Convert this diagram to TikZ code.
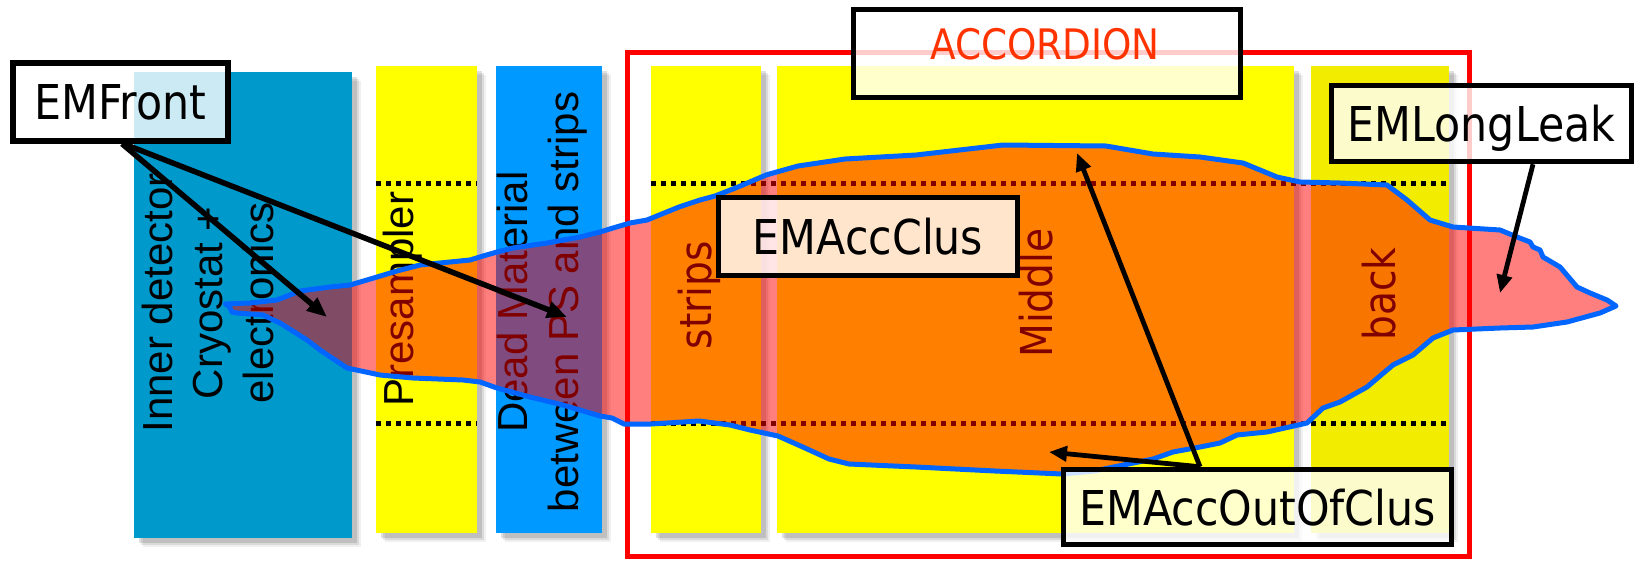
\documentclass[tikz,border=0pt]{standalone}
\usepackage{fontspec}
\setmainfont{Liberation Sans}
\newfontfamily\labelfont[FakeStretch=0.89]{DejaVu Sans}
\usetikzlibrary{arrows.meta}

\definecolor{idblue}{RGB}{0,153,204}
\definecolor{dmblue}{RGB}{0,153,255}
\definecolor{layeryellow}{RGB}{255,255,0}
\definecolor{backyellow}{RGB}{242,236,0}
\definecolor{accred}{RGB}{255,0,0}
\definecolor{acctext}{RGB}{255,51,0}
\definecolor{showerline}{RGB}{0,102,255}

\tikzset{
  softshadow/.style={
    preaction={fill=black, opacity=.06, transform canvas={shift={(9pt,-9pt)}}},
    preaction={fill=black, opacity=.09, transform canvas={shift={(7pt,-7pt)}}},
    preaction={fill=black, opacity=.12, transform canvas={shift={(4.5pt,-4.5pt)}}}},
  layerbox/.style={softshadow},
  sidetext/.style={rotate=90, anchor=base, inner sep=0pt,
    font=\fontsize{42}{50}\selectfont},
  layertext/.style={rotate=90, anchor=base, inner sep=0pt,
    font=\labelfont\fontsize{44}{52}\selectfont},
  labelbox/.style={draw=black, line width=5.5pt, fill=white, fill opacity=0.8,
    text opacity=1, inner sep=0pt, text depth=0pt,
    font=\labelfont\fontsize{48}{56}\selectfont},
  dotline/.style={black, line width=5pt, dash pattern=on 5pt off 5pt},
  pointer/.style={black, line width=5.5pt,
    -{Triangle[length=20pt,width=16pt]}},
  thinpointer/.style={black, line width=4.8pt,
    -{Triangle[length=18pt,width=15pt]}},
  shower/.style={fill=red, fill opacity=0.5, draw=showerline,
    line width=5pt, line join=round}
}

\begin{document}
\begin{tikzpicture}[x=1pt, y=-1pt]
\useasboundingbox (0,0) rectangle (1637,560);

% accordion envelope
\draw[accred, line width=5pt] (627.5,52) rectangle (1469.5,556);

% detector layers
\fill[idblue, layerbox] (134,72) rectangle (352,538);
\fill[layeryellow, layerbox] (376,66) rectangle (477,533);
\fill[dmblue, layerbox] (496,66) rectangle (602,533);
\fill[layeryellow, layerbox] (651,66) rectangle (761,533);
\fill[layeryellow, layerbox] (777,66) rectangle (1294,533);
\fill[backyellow, layerbox] (1311,66) rectangle (1449,533);

% layer names
\node[sidetext] (idline1) at (172,303) {Inner detector};
\node[sidetext] (idline2) at (222,303) {Cryostat +};
\node[sidetext] (idline3) at (273,303) {electronics};
\node[sidetext] (ps) at (413,299) {Presampler};
\node[sidetext] (dmline1) at (527,302) {Dead Material};
\node[sidetext] (dmline2) at (578,302) {between PS and strips};
\node[layertext] (strips) at (711,295) {strips};
\node[layertext] (middle) at (1052,293) {Middle};
\node[layertext] (back) at (1395,294) {back};

% cluster window
\draw[dotline] (376,183) -- (477,183);
\draw[dotline] (376,423) -- (477,423);
\draw[dotline] (651,183) -- (1449,183);
\draw[dotline] (651,423) -- (1449,423);

% shower envelope
\draw[shower] (225,304) -- (250,303) -- (277,300) -- (300,291) -- (330,287)
  -- (350,285) -- (377,277) -- (397,271) -- (420,265) -- (450,262)
  -- (470,260) -- (483,256) -- (497,252) -- (513,248) -- (547,243)
  -- (580,237) -- (600,232) -- (613,228) -- (630,223) -- (647,220)
  -- (679,207) -- (700,200) -- (715,196) -- (738,187) -- (766,175)
  -- (798,166) -- (845,159) -- (916,155) -- (1003,145) -- (1106,146)
  -- (1153,154) -- (1200,157) -- (1243,163) -- (1277,177) -- (1300,182)
  -- (1340,183) -- (1387,185) -- (1407,200) -- (1430,220) -- (1453,227)
  -- (1500,230) -- (1517,237) -- (1530,242) -- (1533,247) -- (1540,250)
  -- (1543,257) -- (1560,267) -- (1577,287) -- (1590,293) -- (1607,300)
  -- (1616,306)
  -- (1600,313) -- (1567,322) -- (1533,327) -- (1500,328) -- (1453,330)
  -- (1433,338) -- (1413,355) -- (1393,365) -- (1387,370) -- (1367,387)
  -- (1340,402) -- (1323,408) -- (1307,423) -- (1267,432) -- (1237,435)
  -- (1220,443) -- (1200,447) -- (1173,452) -- (1153,459) -- (1094,471)
  -- (1062,474) -- (995,471) -- (916,467) -- (849,464) -- (829,459)
  -- (805,448) -- (778,436) -- (750,430) -- (730,425) -- (699,421)
  -- (651,424) -- (624,424) -- (612,418) -- (600,416) -- (563,405)
  -- (530,397) -- (497,388) -- (480,382) -- (463,380) -- (413,378)
  -- (380,375) -- (347,368) -- (320,350) -- (307,340) -- (280,323)
  -- (263,315) -- (237,313) -- (232,312) -- (229,306) -- cycle;

% label boxes
\node[labelbox, minimum width=215pt, minimum height=78pt] (emfront)
  at (120.5,102) {EMFront};
\node[labelbox, minimum width=387pt, minimum height=88pt] (accbox)
  at (1047,53.5) {};
\node[anchor=base, inner sep=0pt, text=acctext,
  font=\labelfont\fontsize{42}{50}\selectfont] (acctitle) at (1045,59) {ACCORDION};
\node[labelbox, minimum width=299pt, minimum height=78pt] (accclus)
  at (868,236.5) {EMAccClus};
\node[labelbox, minimum width=388pt, minimum height=75pt] (outofclus)
  at (1257.5,507) {EMAccOutOfClus};
\node[labelbox, minimum width=300pt, minimum height=76pt] (longleak)
  at (1481.5,123.5) {EMLongLeak};

% arrow targets
\coordinate (frontid) at (327,317);
\coordinate (frontdm) at (567,317);
\coordinate (outtop) at (1077,153);
\coordinate (outbottom) at (1049,452);
\coordinate (leaktail) at (1500,293);

% pointers
\draw[pointer] ([xshift=1.5pt]emfront.south) -- (frontid);
\draw[pointer] ([xshift=3pt]emfront.south) -- (frontdm);
\draw[thinpointer] ([xshift=-57.5pt]outofclus.north) -- (outtop);
\draw[thinpointer] ([xshift=-57.5pt]outofclus.north) -- (outbottom);
\draw[thinpointer] ([xshift=51.5pt]longleak.south) -- (leaktail);
\end{tikzpicture}
\end{document}
